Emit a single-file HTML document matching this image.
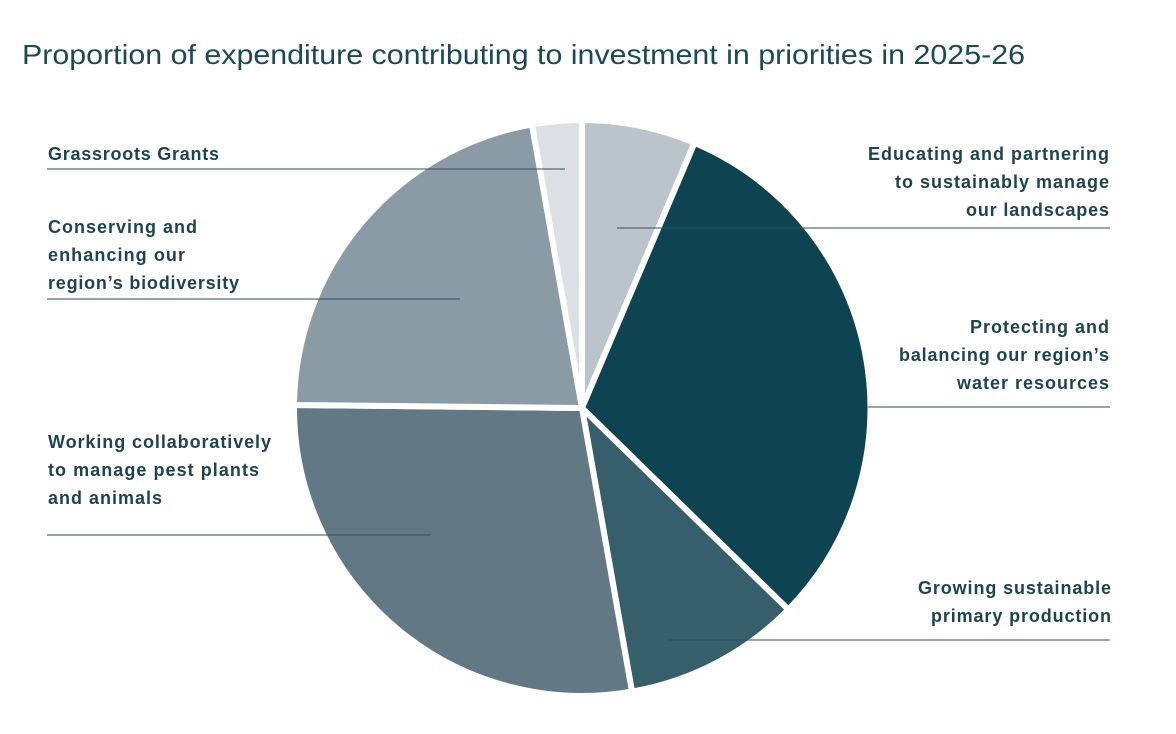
<!DOCTYPE html>
<html><head><meta charset="utf-8"><style>
body{margin:0;background:#fff;width:1176px;height:729px;overflow:hidden;font-family:"Liberation Sans",sans-serif;}
</style></head><body>
<svg width="1176" height="729" xmlns="http://www.w3.org/2000/svg">
<text x="22" y="64" font-size="28" fill="#1b4a57" font-family="Liberation Sans, sans-serif" textLength="1003" lengthAdjust="spacingAndGlyphs">Proportion of expenditure contributing to investment in priorities in 2025-26</text>
<g stroke="#fff" stroke-width="6" stroke-linejoin="miter">
<path d="M582,408 L582,120 A288,288 0 0 1 694.5,142.9 Z" fill="#bcc4cb"/>
<path d="M582,408 L694.5,142.9 A288,288 0 0 1 788.4,609.6 Z" fill="#0e4452"/>
<path d="M582,408 L788.4,609.6 A288,288 0 0 1 632.0,691.6 Z" fill="#375f6b"/>
<path d="M582,408 L632.0,691.6 A288,288 0 0 1 294.0,405.0 Z" fill="#627884"/>
<path d="M582,408 L294.0,405.0 A288,288 0 0 1 532.0,124.4 Z" fill="#8a9ba5"/>
<path d="M582,408 L532.0,124.4 A288,288 0 0 1 582,120 Z" fill="#dcdfe3"/>
</g>
<g stroke="#2e4f5a" stroke-width="1">
<line x1="47" y1="169" x2="565" y2="169"/>
<line x1="47" y1="299" x2="460" y2="299"/>
<line x1="47" y1="535" x2="430" y2="535"/>
<line x1="617" y1="228" x2="1110" y2="228"/>
<line x1="868" y1="407" x2="1110" y2="407"/>
<line x1="668" y1="640" x2="1110" y2="640"/>
</g>
<g font-size="18" font-weight="bold" fill="#1d4450" font-family="Liberation Sans, sans-serif" lengthAdjust="spacingAndGlyphs">
<text x="48" y="160" textLength="171">Grassroots Grants</text>
<text x="48" y="233" textLength="149">Conserving and</text>
<text x="48" y="261" textLength="137">enhancing our</text>
<text x="48" y="289" textLength="191">region’s biodiversity</text>
<text x="48" y="448" textLength="223">Working collaboratively</text>
<text x="48" y="476" textLength="211">to manage pest plants</text>
<text x="48" y="504" textLength="114">and animals</text>
<text x="868" y="160" textLength="241">Educating and partnering</text>
<text x="895" y="188" textLength="214">to sustainably manage</text>
<text x="966" y="216" textLength="143">our landscapes</text>
<text x="970" y="333" textLength="139">Protecting and</text>
<text x="899" y="361" textLength="210">balancing our region’s</text>
<text x="957" y="389" textLength="152">water resources</text>
<text x="918" y="594" textLength="193">Growing sustainable</text>
<text x="931" y="622" textLength="180">primary production</text>
</g>
</svg>
</body></html>
